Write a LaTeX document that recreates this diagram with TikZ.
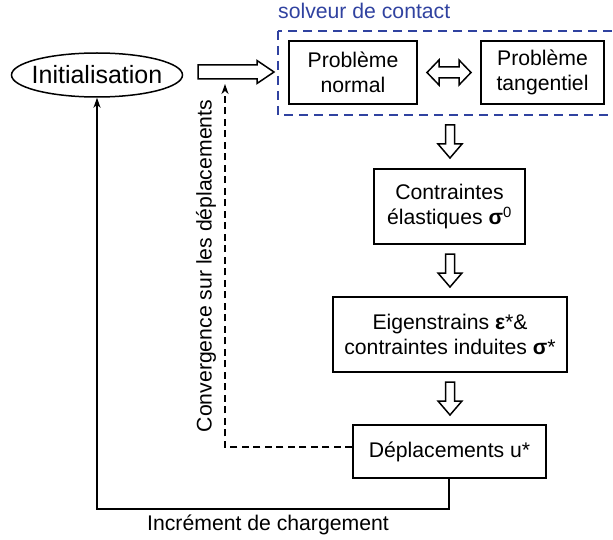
\documentclass[tikz,border=0pt]{standalone}
\usepackage{fontspec}
\setmainfont{Liberation Sans}
\usetikzlibrary{shapes.geometric,arrows.meta,calc}
\definecolor{solvblue}{RGB}{48,66,160}
\tikzset{
  box/.style={draw=black,line width=1.5pt,rectangle,inner sep=0pt,align=center,
    font=\fontsize{21.2}{25.5}\selectfont},
  lbl/.style={inner sep=0pt,font=\fontsize{21.2}{25.5}\selectfont},
  hollow/.style={draw=black,line width=1.5pt,fill=white,line join=miter},
  conn/.style={line width=1.5pt,-{Stealth[length=10pt,width=7pt,inset=3pt]}},
  downarr/.pic={\draw[hollow] (-4.5,0) -- (-4.5,19) -- (-12,19) -- (0,33) -- (12,19) -- (4.5,19) -- (4.5,0) -- cycle;},
  dblarr/.pic={\draw[hollow] (-22,0) -- (-10,-12.5) -- (-10,-5.5) -- (10,-5.5) -- (10,-12.5) -- (22,0) -- (10,12.5) -- (10,5.5) -- (-10,5.5) -- (-10,12.5) -- cycle;},
  rightarr/.pic={\draw[hollow] (0,-7) -- (59,-7) -- (59,-11.5) -- (76,0) -- (59,11.5) -- (59,7) -- (0,7) -- cycle;}
}
\begin{document}
\begin{tikzpicture}[x=1pt,y=-1pt]
\useasboundingbox (0,0) rectangle (613,540);
% solver frame
\draw[solvblue,line width=1.5pt,dash pattern=on 9pt off 6pt] (278,31) rectangle (616,115);
\node[lbl,anchor=base west,text=solvblue] (solv) at (278,19) {solveur de contact};
% nodes
\node[draw=black,line width=1.5pt,ellipse,minimum width=171pt,minimum height=44pt,
  inner sep=0pt] (init) at (97,75) {};
\node[inner sep=0pt,font=\fontsize{25}{30}\selectfont] (initT) at (init.center) {Initialisation};
\node[box,minimum width=128pt,minimum height=63pt] (pn) at (353,72.5) {Problème\\normal};
\node[box,minimum width=123pt,minimum height=63pt] (pt) at (542.5,72.5) {Problème\\tangentiel};
\node[box,minimum width=151pt,minimum height=75pt] (ce) at (449.5,206.5) {Contraintes\\élastiques \textbf{σ}\textsuperscript{0}};
\node[box,minimum width=234pt,minimum height=75pt] (eig) at (450,334.5) {Eigenstrains \textbf{ε}*\&\\contraintes induites \textbf{σ}*};
\node[box,minimum width=193pt,minimum height=53pt] (dep) at (449.5,451.5) {Déplacements u*};
% hollow arrows
\coordinate (ra) at (198,72);
\pic at (ra) {rightarr};
\pic at ($(pn.east)!0.5!(pt.west)$) {dblarr};
\pic at (450,125) {downarr};
\pic at (450,254) {downarr};
\pic at (450,382) {downarr};
% connectors
\coordinate (dashend) at (225,84);
\coordinate (dashcorner) at (225,447);
\draw[line width=1.5pt,dash pattern=on 7pt off 4.5pt,-{Stealth[length=10pt,width=7pt,inset=3pt]}]
  (dep.west |- dashcorner) -- (dashcorner) -- (dashend);
\coordinate (loopR) at (449,509);
\draw[conn] (dep.south -| loopR) -- (loopR) -- (loopR -| init.south) -- (init.south);
% labels
\node[lbl,rotate=90] (conv) at (206,266) {Convergence sur les déplacements};
\node[lbl] (incr) at (268,525) {Incrément de chargement};
\end{tikzpicture}
\end{document}
